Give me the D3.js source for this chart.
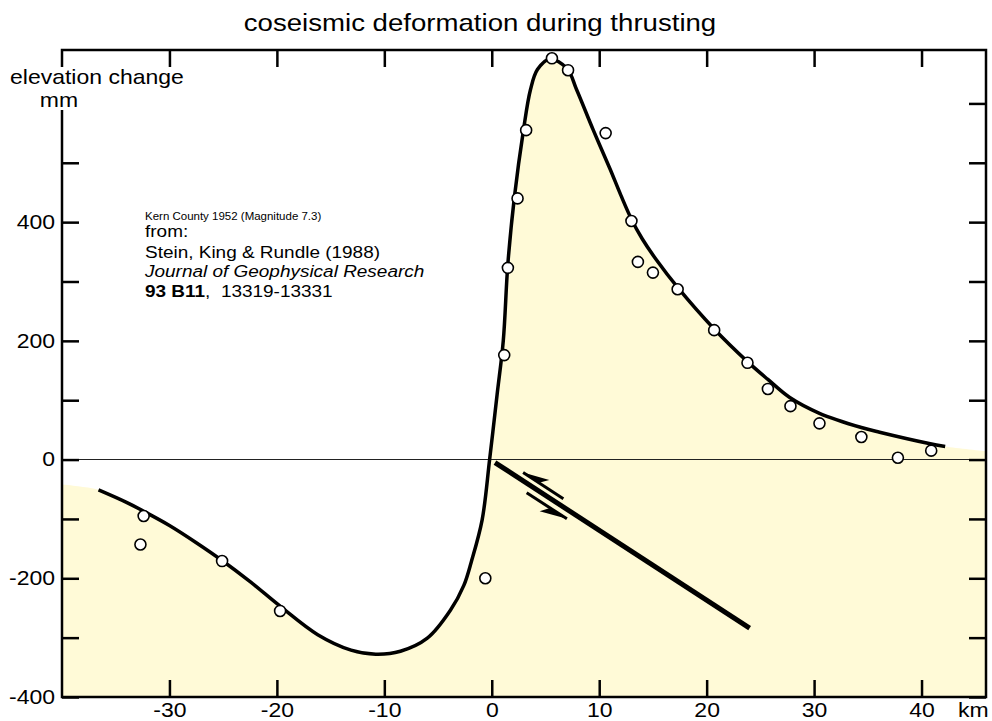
<!DOCTYPE html>
<html><head><meta charset="utf-8">
<script src="https://cdn.jsdelivr.net/npm/d3@7"></script>
<style>
body{margin:0;background:#fff}
text{font-family:"Liberation Sans",Arial,Helvetica,sans-serif;fill:#000}
</style>
</head><body>
<svg id="chart" width="992" height="721"></svg>
<script>
// ---- data ----
const modelX = [-40, -38.5, -36.6, -34, -32.4, -30, -27.5, -25.1, -22.4, -19.7, -16.2, -13.1, -10.8, -8.5, -6.0, -3.85, -2.6, -1.9, -0.9, -0.2, 0.5, 1.07, 1.5, 2.1, 2.95, 3.6, 4.25, 5.4, 7.0, 7.9, 9.45, 11.0, 12.0, 13.0, 14.0, 15.3, 17.3, 20.7, 23.8, 25.7, 27.7, 30.5, 34.4, 36.1, 40.7, 42.2, 46];
const modelY = [-42, -45, -51, -72, -87, -111, -140, -170, -207, -247, -295, -321, -328, -323, -301, -254, -212, -172, -102, 0, 110, 200, 330, 441, 555, 623, 657, 675, 659, 623, 555, 490, 446, 405, 372, 337, 290, 220, 165, 135, 105, 78, 54, 46, 27, 22, 14];
const lineRange = [-36.6, 42.2];
const obsX = [-32.4, -32.7, -25.1, -19.7, -0.6, 1.16, 1.5, 2.4, 3.2, 5.6, 7.1, 10.6, 13.0, 13.6, 15.0, 17.3, 20.7, 23.8, 25.7, 27.8, 30.5, 34.4, 37.8, 40.9];
const obsY = [-95, -143, -171, -255, -200, 176, 323, 440, 555, 676, 656, 550, 402, 333, 315, 287, 218, 163, 119, 90, 61, 38, 3, 15];
const xTickValues = [-30, -20, -10, 0, 10, 20, 30, 40];
const yTickValues = [-400, -300, -200, -100, 0, 100, 200, 300, 400, 500, 600];
const yLabelValues = [-400, -200, 0, 200, 400];
const faultX = [0.3, 24.0];
const faultY = [-5, -284];
const titleText = "coseismic deformation during thrusting";
const yTitle = ["elevation change", "mm"];
const xUnit = "km";
const noteLines = ["Kern County 1952 (Magnitude 7.3)", "from:", "Stein, King & Rundle (1988)", "Journal of Geophysical Research"];
const noteRef = ["93 B11", ",  13319-13331"];

// ---- layout ----
const W = 992, H = 721;
const M = {left: 62, right: 6, top: 50, bottom: 24};
const SX = 1.15; // horizontal stretch of the reference lettering
const fillColor = "#fffad7";

const svg = d3.select("#chart");
const x = d3.scaleLinear().domain([-40, 46]).range([M.left, W - M.right]);
const y = d3.scaleLinear().domain([-400, 690]).range([H - M.bottom, M.top]);

const model = modelX.map((v, i) => ({x: v, y: modelY[i]}));
const obs = obsX.map((v, i) => ({x: v, y: obsY[i]}));
const smooth = d3.curveCatmullRom.alpha(0.5);

// fill under model curve
const area = d3.area().x(d => x(d.x)).y0(y(-400)).y1(d => y(d.y)).curve(smooth);
svg.append("path").datum(model).attr("d", area).attr("fill", fillColor);

// zero line
svg.append("line").attr("x1", x(-40)).attr("x2", x(46)).attr("y1", y(0)).attr("y2", y(0))
  .attr("stroke", "#222").attr("stroke-width", 1.1);

// fault and slip arrows
const f0 = [x(faultX[0]), y(faultY[0])], f1 = [x(faultX[1]), y(faultY[1])];
svg.append("line").attr("x1", f0[0]).attr("y1", f0[1]).attr("x2", f1[0]).attr("y2", f1[1])
  .attr("stroke", "#000").attr("stroke-width", 5);
const fl = Math.hypot(f1[0] - f0[0], f1[1] - f0[1]);
const u = [(f1[0] - f0[0]) / fl, (f1[1] - f0[1]) / fl];
const n = [u[1], -u[0]]; // perpendicular, toward hanging wall
const P = (s, d) => [f0[0] + u[0] * s + n[0] * d, f0[1] + u[1] * s + n[1] * d];
function harpoon(tailS, tipS, d, barbS, barbD, backS) {
  svg.append("line").attr("x1", P(tailS, d)[0]).attr("y1", P(tailS, d)[1])
    .attr("x2", P(tipS, d)[0]).attr("y2", P(tipS, d)[1]).attr("stroke", "#000").attr("stroke-width", 3);
  svg.append("path").attr("d", d3.line()([P(tipS, d), P(barbS, barbD), P(backS, d)]) + "Z").attr("fill", "#000");
}
harpoon(77, 29, 7, 55, 15, 48);
harpoon(43, 91, -8, 64, -16.5, 71);

// model curve line
const line = d3.line().x(d => x(d.x)).y(d => y(d.y)).curve(smooth);
svg.append("path").datum(model.filter(d => d.x >= lineRange[0] && d.x <= lineRange[1]))
  .attr("d", line).attr("fill", "none").attr("stroke", "#000").attr("stroke-width", 3.5);

// observations
svg.append("g").selectAll("circle").data(obs).join("circle")
  .attr("cx", d => x(d.x)).attr("cy", d => y(d.y)).attr("r", 5.5)
  .attr("fill", "#fff").attr("stroke", "#000").attr("stroke-width", 1.6);

// axes (ticks point inward)
function styleAxis(g) {
  g.select(".domain").remove();
  g.selectAll(".tick line").attr("stroke", "#000").attr("stroke-width", 2.5);
  g.selectAll(".tick text").attr("font-size", 20).attr("font-family", '"Liberation Sans",Arial,sans-serif')
    .attr("fill", "#000").attr("transform", `scale(${SX},1)`);
}
const fmt = d => String(d);
svg.append("g").attr("transform", `translate(0,${y(-400)})`)
  .call(d3.axisBottom(x).tickValues(xTickValues).tickSize(-17).tickPadding(5.5).tickFormat(fmt))
  .call(styleAxis);
svg.append("g").attr("transform", `translate(0,${y(690)})`)
  .call(d3.axisTop(x).tickValues(xTickValues).tickSize(-17).tickFormat(""))
  .call(styleAxis);
svg.append("g").attr("transform", `translate(${x(-40)},0)`)
  .call(d3.axisLeft(y).tickValues(yTickValues).tickSize(-17).tickPadding(6)
    .tickFormat(d => yLabelValues.includes(d) ? fmt(d) : ""))
  .call(styleAxis);
svg.append("g").attr("transform", `translate(${x(46)},0)`)
  .call(d3.axisRight(y).tickValues(yTickValues).tickSize(-17).tickFormat(""))
  .call(styleAxis);

// frame
svg.append("rect").attr("x", x(-40)).attr("y", y(690)).attr("width", x(46) - x(-40)).attr("height", y(-400) - y(690))
  .attr("fill", "none").attr("stroke", "#000").attr("stroke-width", 2.5);

// text helper with horizontal stretch
function label(px, py, str, size, anchor, extra) {
  const t = svg.append("text").attr("transform", `translate(${px},${py}) scale(${SX},1)`)
    .attr("font-size", size).attr("text-anchor", anchor || "start").style("white-space", "pre");
  if (extra) extra(t);
  if (str !== null) t.text(str);
  return t;
}

// y title with white background breaking the axis
svg.append("rect").attr("x", 8).attr("y", 67).attr("width", 186).attr("height", 43).attr("fill", "#fff");
label(10, 84, yTitle[0], 20, "start");
label(59, 107, yTitle[1], 20, "middle");
label(x(46) - 28, 717, xUnit, 20, "start");

// title
label(480, 31, titleText, 24, "middle");

// note block
label(145, 220, noteLines[0], 10, "start");
label(145, 237, noteLines[1], 16.5, "start");
label(145, 258, noteLines[2], 16.5, "start");
label(145, 277, noteLines[3], 16.5, "start", t => t.attr("font-style", "italic"));
label(145, 297, null, 16.5, "start", t => {
  t.append("tspan").attr("font-weight", "bold").text(noteRef[0]);
  t.append("tspan").text(noteRef[1]);
});
</script>
</body></html>
